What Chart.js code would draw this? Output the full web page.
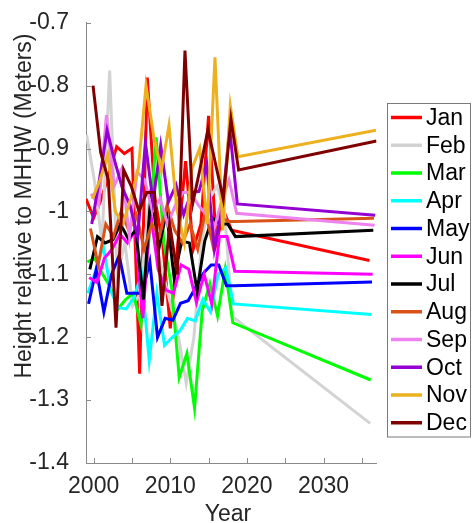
<!DOCTYPE html>
<html>
<head>
<meta charset="utf-8">
<script src="https://cdn.jsdelivr.net/npm/chart.js@4/dist/chart.umd.min.js"></script>
<style>
  html, body { margin: 0; padding: 0; background: #ffffff; }
  #wrap { width: 472px; height: 523px; }
</style>
</head>
<body>
<div id="wrap"><canvas id="c" width="472" height="523"></canvas></div>
<script>
// ---- data ----
const months = ['Jan','Feb','Mar','Apr','May','Jun','Jul','Aug','Sep','Oct','Nov','Dec'];
const years = [1999,2000,2001,2002,2003,2004,2005,2006,2007,2008,2009,2010,2011,2012,2013,2014,2015,2016,2017,2018,2036];
const jan = [-0.98,-1.01,-0.98,-0.94,-0.897,-0.908,-0.90,-1.258,-0.787,-0.98,-1.05,-1.186,-1.05,-0.92,-1.06,-1.02,-0.848,-1.05,-1.0,-1.03,-1.078];
const feb = [-0.878,-0.95,-1.05,-0.776,-1.1,-1.05,-1.15,-1.13,-1.0,-1.05,-1.1,-1.15,-1.2,-1.273,-1.2,-1.05,-0.98,-0.96,-1.0,-1.167,-1.337];
const mar = [-1.08,-1.075,-1.1,-1.12,-1.155,-1.14,-1.13,-1.18,-1.05,-0.882,-1.05,-1.12,-1.264,-1.226,-1.313,-1.158,-1.115,-1.166,-1.092,-1.177,-1.268];
const apr = [-1.13,-1.095,-1.055,-1.127,-1.153,-1.155,-1.137,-1.1,-1.237,-1.13,-1.213,-1.2,-1.19,-1.17,-1.174,-1.14,-1.16,-1.1,-1.09,-1.147,-1.164];
const may = [-1.147,-1.092,-1.16,-1.1,-1.07,-1.13,-1.13,-1.13,-1.08,-1.2,-1.17,-1.173,-1.146,-1.142,-1.12,-1.098,-1.085,-1.085,-1.118,-1.118,-1.112];
const jun = [-1.105,-1.113,-1.074,-1.06,-1.036,-1.05,-1.03,-1.17,-1.0,-1.092,-1.125,-1.13,-1.085,-1.092,-1.145,-1.1,-1.147,-1.04,-1.04,-1.095,-1.1];
const jul = [-1.092,-1.04,-1.05,-1.045,-1.02,-1.043,-1.03,-1.14,-0.965,-1.06,-1.0,-1.105,-1.047,-1.05,-1.127,-1.047,-1.01,-1.02,-1.02,-1.04,-1.03];
const aug = [-1.027,-1.085,-1.02,-1.04,-1.0,-1.03,-1.005,-1.06,-1.02,-1.04,-0.99,-1.03,-1.05,-1.02,-1.06,-1.0,-1.055,-1.01,-1.016,-1.016,-1.011];
const sep = [-0.972,-0.99,-0.847,-0.96,-0.932,-1.04,-0.937,-0.95,-1.0,-0.98,-1.02,-0.99,-0.97,-0.97,-0.99,-1.005,-1.03,-0.985,-0.95,-1.003,-1.022];
const oct = [-1.02,-0.95,-0.871,-0.92,-0.963,-0.99,-1.04,-0.89,-0.985,-0.895,-0.985,-0.958,-1.005,-0.97,-0.968,-0.924,-1.06,-0.995,-0.868,-0.988,-1.006];
const nov = [-0.98,-0.95,-0.91,-1.0,-1.02,-0.98,-0.932,-0.8,-0.88,-0.935,-0.863,-0.995,-1.05,-0.932,-0.9,-1.02,-0.755,-1.03,-0.832,-0.913,-0.871];
const dec = [-0.80,-0.906,-0.95,-1.185,-0.934,-0.96,-1.0,-0.97,-0.97,-1.15,-1.02,-1.1,-0.744,-0.988,-0.93,-0.87,-0.925,-0.98,-0.853,-0.934,-0.888];
const seriesValues = [jan,feb,mar,apr,may,jun,jul,aug,sep,oct,nov,dec];
const xTickValues = [2000,2010,2020,2030];
const xTickMarks = [2000,2005,2010,2015,2020,2025,2030,2035];
const yTickValues = [-1.4,-1.3,-1.2,-1.1,-1.0,-0.9,-0.8,-0.7];
const yTickLabels = ['-1.4','-1.3','-1.2','-1.1','-1','-0.9','-0.8','-0.7'];
const xTitle = 'Year';
const yTitle = 'Height relative to MHHW (Meters)';

// ---- styles ----
const lineColors = ['#ff0000','#d3d3d3','#00ff00','#00ffff','#0000ff','#ff00ff','#000000','#d95319','#ee82ee','#9400d3','#edb120','#7e0000'];
const FONT = '"Liberation Sans", Arial, Helvetica, sans-serif';
const axisColor = '#8a8a8a';
const textColor = '#262626';

const datasets = months.map((m, mi) => ({
  label: m,
  data: years.map((y, i) => ({ x: y + mi / 12, y: seriesValues[mi][i] })),
  borderColor: lineColors[mi],
  backgroundColor: lineColors[mi],
  borderWidth: 3,
  pointRadius: 0,
  fill: false,
  tension: 0,
  order: 11 - mi
}));

const decorPlugin = {
  id: 'decor',
  afterDraw(chart) {
    const ctx = chart.ctx;
    const xs = chart.scales.x, ys = chart.scales.y;
    const a = chart.chartArea;
    ctx.save();
    // inner tick marks
    ctx.strokeStyle = axisColor;
    ctx.lineWidth = 1;
    ctx.beginPath();
    xTickMarks.forEach(v => {
      const px = Math.round(xs.getPixelForValue(v)) + 0.5;
      ctx.moveTo(px, a.bottom);
      ctx.lineTo(px, a.bottom - 5);
    });
    yTickValues.forEach(v => {
      const py = Math.round(ys.getPixelForValue(v)) + 0.5;
      ctx.moveTo(a.left, py);
      ctx.lineTo(a.left + 5, py);
    });
    ctx.stroke();

    // axis titles
    ctx.fillStyle = textColor;
    ctx.font = '23px ' + FONT;
    ctx.textAlign = 'center';
    ctx.textBaseline = 'alphabetic';
    ctx.fillText(xTitle, 228, 521);
    ctx.save();
    ctx.translate(31, 206);
    ctx.rotate(-Math.PI / 2);
    ctx.fillText(yTitle, 0, 0);
    ctx.restore();

    // legend
    const bx = 387.5, by = 103.5, bw = 83, bh = 333.5;
    ctx.fillStyle = '#ffffff';
    ctx.fillRect(bx, by, bw, bh);
    ctx.strokeStyle = '#7a7a7a';
    ctx.lineWidth = 1;
    ctx.strokeRect(bx, by, bw, bh);
    const rowH = 27.75, y0 = 117.5;
    chart.data.datasets.forEach((ds, i) => {
      const cy = y0 + i * rowH;
      ctx.strokeStyle = ds.borderColor;
      ctx.lineWidth = 3.5;
      ctx.beginPath();
      ctx.moveTo(391, cy);
      ctx.lineTo(422, cy);
      ctx.stroke();
      ctx.fillStyle = '#000000';
      ctx.font = '23px ' + FONT;
      ctx.textAlign = 'left';
      ctx.textBaseline = 'middle';
      ctx.fillText(ds.label, 426, cy + 1);
    });
    ctx.restore();
  }
};

new Chart(document.getElementById('c'), {
  type: 'line',
  data: { datasets },
  options: {
    responsive: false,
    devicePixelRatio: 1,
    animation: false,
    layout: { padding: { left: 0, right: 95.5, top: 20, bottom: 0 } },
    plugins: { legend: { display: false }, tooltip: { enabled: false } },
    scales: {
      x: {
        type: 'linear',
        min: 1999,
        max: 2036 + 11 / 12,
        afterBuildTicks: s => { s.ticks = xTickValues.map(v => ({ value: v })); },
        afterFit: s => { s.height = 60; },
        grid: { display: false },
        border: { display: true, color: axisColor, width: 1 },
        ticks: {
          padding: 2,
          color: textColor,
          font: { family: FONT, size: 23 },
          maxRotation: 0,
          autoSkip: false,
          callback: v => String(v)
        }
      },
      y: {
        type: 'linear',
        min: -1.4,
        max: -0.7,
        afterBuildTicks: s => { s.ticks = yTickValues.map(v => ({ value: v })); },
        afterFit: s => { s.width = 86; },
        grid: { display: false },
        border: { display: true, color: axisColor, width: 1 },
        ticks: {
          padding: 9,
          color: textColor,
          font: { family: FONT, size: 23 },
          autoSkip: false,
          callback: (v, i) => yTickLabels[i]
        }
      }
    }
  },
  plugins: [decorPlugin]
});
</script>
</body>
</html>
